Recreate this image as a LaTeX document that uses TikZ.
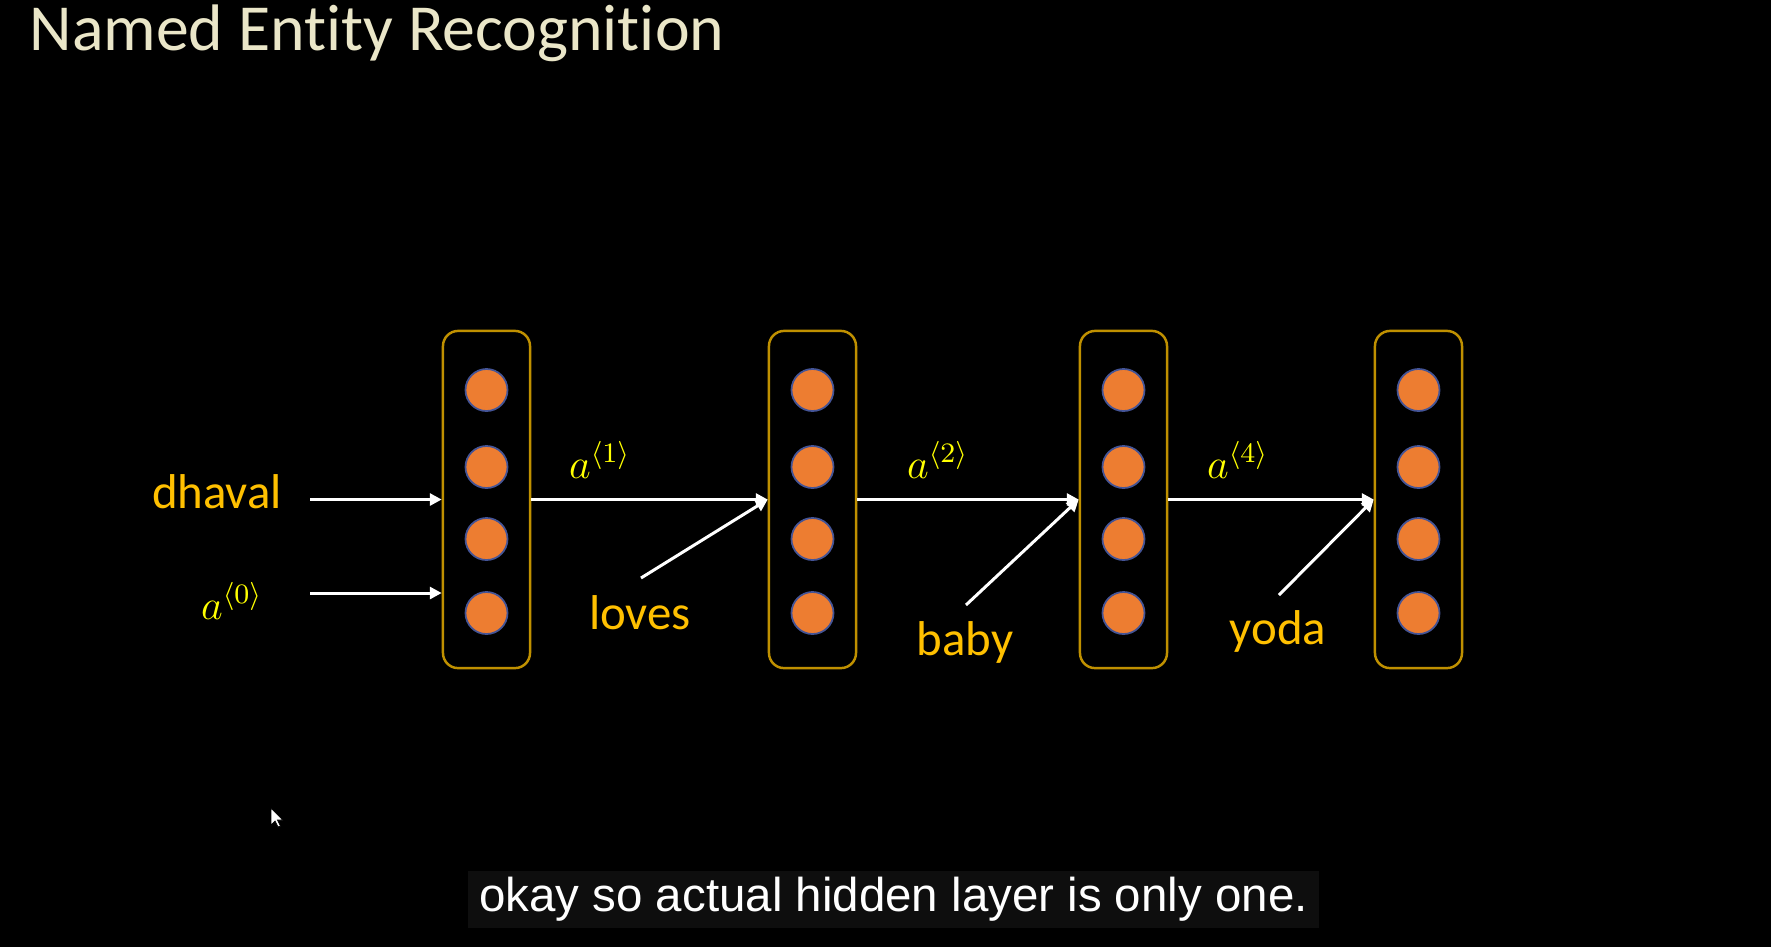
\documentclass[tikz,border=0pt]{standalone}
\usepackage[no-math]{fontspec}
\setmainfont{Carlito}[Ligatures=NoCommon]
\newfontfamily\capfont{Liberation Sans}
\usetikzlibrary{arrows.meta}
\definecolor{titlecream}{RGB}{234,230,200}
\definecolor{boxgold}{RGB}{191,144,0}
\definecolor{unitorange}{RGB}{237,125,49}
\definecolor{unitblue}{RGB}{68,84,150}
\definecolor{wordyellow}{RGB}{255,192,0}
\definecolor{stateyellow}{RGB}{255,255,0}
\definecolor{capgray}{RGB}{14,14,14}

\begin{document}
\begin{tikzpicture}[x=0.01cm,y=-0.01cm,
  layer/.style={draw=boxgold,line width=0.7pt,rounded corners=4.3pt,minimum width=0.87cm,minimum height=3.37cm,inner sep=0},
  unit/.style={circle,fill=unitorange,draw=unitblue,line width=0.5pt,minimum size=0.42cm,inner sep=0},
  word/.style={text=wordyellow,font=\fontsize{13.9}{16}\selectfont,inner sep=0},
  state/.style={text=stateyellow,font=\fontsize{12}{14}\selectfont,inner sep=0},
  flow/.style={draw=white,line width=0.85pt,-{Triangle[length=3.4pt,width=3.4pt]}}]
\fill[black] (0,0) rectangle (1771,947);
\useasboundingbox (0,0) rectangle (1771,947);

\node[anchor=base west,inner sep=0,text=titlecream,font=\fontsize{18.7}{22}\selectfont] (title) at (29,50) {Named Entity Recognition};

\foreach \x [count=\i] in {486.5,812.5,1123.5,1418.5} {%
    \node[layer] (h\i) at (\x,499.5) {};
    \foreach \y [count=\j] in {390,467,539,613}
        \node[unit] (h\i-\j) at (\x,\y) {};
}

\node[word,anchor=base] (dhaval) at (217,508) {dhaval};
\node[state,anchor=base] (s0) at (232,619) {$a^{\langle 0\rangle}$};
\node[word,anchor=base] (loves) at (640,629) {loves};
\node[word,anchor=base] (baby) at (965,655) {baby};
\node[word,anchor=base] (yoda) at (1278,644) {yoda};
\foreach \s/\x [count=\n from 1] in {1/600,2/938,4/1238}
    \node[state,anchor=base] (s\n) at (\x,478) {$a^{\langle \s\rangle}$};

\coordinate (in1) at (310,499.5);
\coordinate (in0) at (310,593);
\coordinate (w2) at (641,578);
\coordinate (w3) at (966,605);
\coordinate (w4) at (1279,595);

\draw[flow] (in1) -- (h1.west);
\draw[flow] (in0) -- (in0 -| h1.west);
\foreach \a/\b in {1/2,2/3,3/4} {%
    \draw[flow] (h\a.east) -- (h\b.west);
    \draw[flow] (w\b) -- (h\b.west);
}

\node[fill=capgray,minimum width=8.51cm,minimum height=0.57cm,inner sep=0,text=white,font=\capfont\fontsize{13.5}{16}\selectfont] (caption) at (893.5,899.5) {okay so actual hidden layer is only one.};

\fill[white,draw=black,line width=0.2pt] (271,808) -- ++(0,17) -- ++(4,-4) -- ++(3,6) -- ++(2.5,-1) -- ++(-3,-6) -- ++(5.5,0) -- cycle;
\end{tikzpicture}
\end{document}
